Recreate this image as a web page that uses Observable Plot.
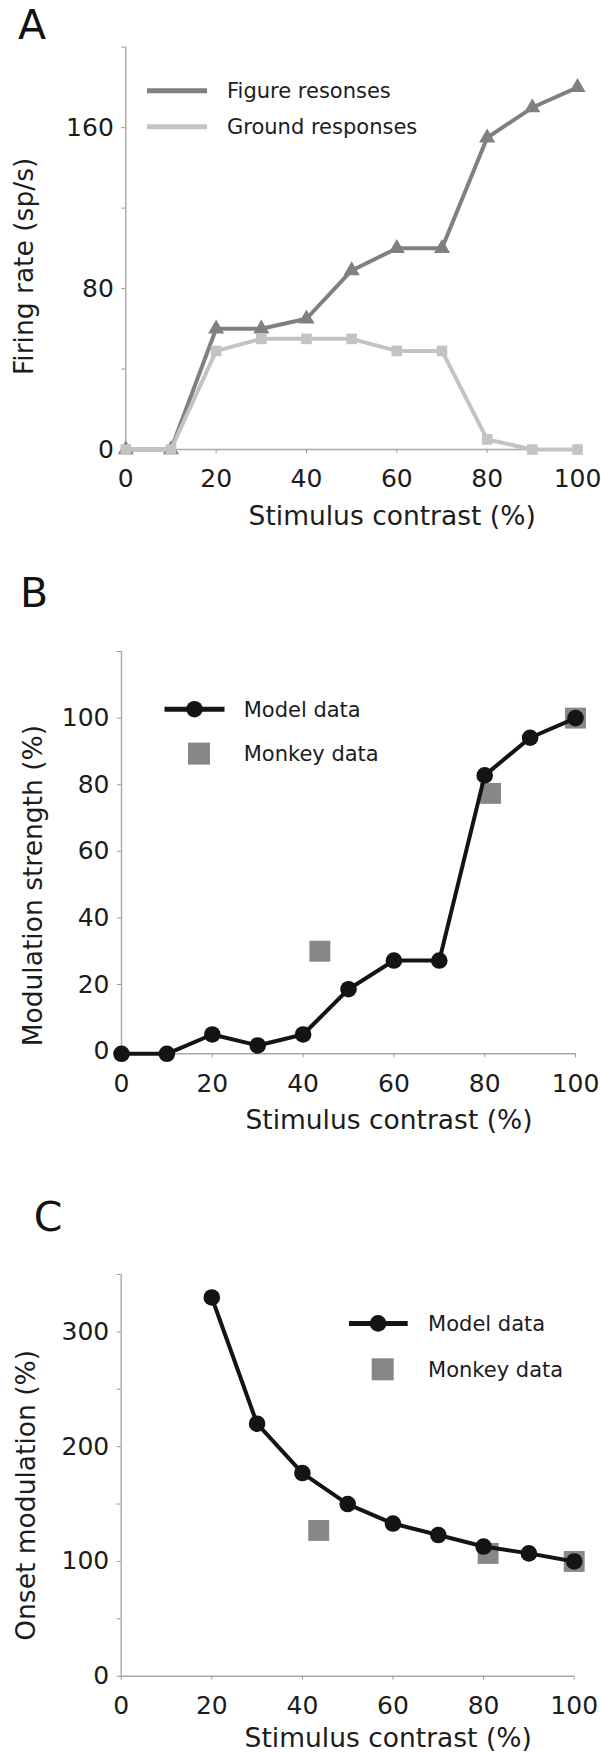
<!DOCTYPE html>
<html><head><meta charset="utf-8">
<script src="https://cdn.jsdelivr.net/npm/d3@7"></script>
<script src="https://cdn.jsdelivr.net/npm/@observablehq/plot@0.6"></script>
<style>
body{margin:0;background:#fff;}
#root{position:relative;width:601px;height:1754px;font-family:"DejaVu Sans",Verdana,sans-serif;overflow:hidden;}
.panel{position:absolute;left:0;}
.panel svg{overflow:visible;}
.panel g[aria-label="x-axis tick"], .panel g[aria-label="y-axis tick"]{stroke:#9a9a9a;}
#overlay{position:absolute;left:0;top:0;pointer-events:none;}
</style></head><body><div id="root"></div>
<script>
// ---- data ----
const contrast = [0, 10, 20, 30, 40, 50, 60, 70, 80, 90, 100];
const figureResp = [0, 0, 60, 60, 65, 89, 100, 100, 155, 170, 180];
const groundResp = [0, 0, 49, 55, 55, 55, 49, 49, 5, 0, 0];

const modelMod = [-0.8, -0.8, 5, 1.7, 5, 18.6, 27.2, 27.2, 82.8, 94.1, 100];
const monkeyModContrast = [43.7, 81.3, 100];
const monkeyMod = [30, 77.4, 100];

const onsetContrast = [20, 30, 40, 50, 60, 70, 80, 90, 100];
const modelOnset = [330, 220, 177, 150, 133, 123, 113, 107, 100];
const monkeyOnsetContrast = [43.6, 81.0, 100];
const monkeyOnset = [127, 107, 100];

const xTicks = [0, 20, 40, 60, 80, 100];
const yTicksA = [0, 40, 80, 120, 160, 200];
const yLabelsA = [0, 80, 160];
const yTicksB = [0, 20, 40, 60, 80, 100, 120];
const yLabelsB = [0, 20, 40, 60, 80, 100];
const yTicksC = [0, 50, 100, 150, 200, 250, 300, 350];
const yLabelsC = [0, 100, 200, 300];

const xTitle = "Stimulus contrast (%)";
const yTitleA = "Firing rate (sp/s)";
const yTitleB = "Modulation strength (%)";
const yTitleC = "Onset modulation (%)";
const legendA = ["Figure resonses", "Ground responses"];
const legendBC = ["Model data", "Monkey data"];
const panelLetters = ["A", "B", "C"];

const FIG = "#808080", GROUND = "#c3c3c3", MODEL = "#141414", MONKEY = "#878787";
const AXIS = "#a8a8a8";
const FONT = "DejaVu Sans, Verdana, sans-serif";

const tableA = contrast.map((c, i) => ({c, fig: figureResp[i], gr: groundResp[i]}));
const tableB = contrast.map((c, i) => ({c, v: modelMod[i]}));
const monkeyB = monkeyModContrast.map((c, i) => ({c, v: monkeyMod[i]}));
const tableC = onsetContrast.map((c, i) => ({c, v: modelOnset[i]}));
const monkeyC = monkeyOnsetContrast.map((c, i) => ({c, v: monkeyOnset[i]}));

const root = document.getElementById("root");

function makePanel({top, height, mt, mb, ml, mr, yDomain, yTicks, yLabels, yTitle, xTitleDy, yTitleDx, yTitleDy, marks}) {
  const chart = Plot.plot({
    width: 601, height,
    marginTop: mt, marginBottom: mb, marginLeft: ml, marginRight: mr,
    x: {domain: [0, 100], axis: null},
    y: {domain: yDomain, axis: null},
    style: {fontFamily: FONT, color: "#1c1c1c", background: "transparent", overflow: "visible"},
    marks: [
      Plot.ruleY([yDomain[0]], {stroke: AXIS, strokeWidth: 1.4}),
      Plot.ruleX([0], {stroke: AXIS, strokeWidth: 1.4}),
      Plot.axisX(xTicks, {tickSize: 4, tickPadding: 16, fontSize: 25, label: null}),
      Plot.axisY(yTicks, {tickSize: 4, tickPadding: 8, fontSize: 25, label: null,
        tickFormat: d => yLabels.includes(d) ? String(d) : ""}),
      Plot.text([xTitle], {text: d => d, frameAnchor: "bottom", lineAnchor: "bottom", textAnchor: "middle",
        dx: 40.5, dy: xTitleDy, fontSize: 26.5, fill: "#1c1c1c"}),
      Plot.text([yTitle], {text: d => d, frameAnchor: "left", rotate: -90, textAnchor: "middle", lineAnchor: "middle",
        dx: yTitleDx, dy: yTitleDy, fontSize: 26.5, fill: "#1c1c1c"}),
      ...marks
    ]
  });
  const div = document.createElement("div");
  div.className = "panel";
  div.style.top = top + "px";
  div.appendChild(chart);
  root.appendChild(div);
}

// Panel A
makePanel({
  top: 0, height: 580, mt: 46.7, mb: 131, ml: 125.3, mr: 24,
  yDomain: [0, 200], yTicks: yTicksA, yLabels: yLabelsA, yTitle: yTitleA,
  xTitleDy: 75, yTitleDx: -101, yTitleDy: 18,
  marks: [
    Plot.line(tableA, {x: "c", y: "fig", stroke: FIG, strokeWidth: 4}),
    Plot.dot(tableA, {x: "c", y: "fig", symbol: "triangle", r: 6, fill: FIG, stroke: "none"}),
    Plot.line(tableA, {x: "c", y: "gr", stroke: GROUND, strokeWidth: 4}),
    Plot.dot(tableA, {x: "c", y: "gr", symbol: "square", r: 6, fill: GROUND, stroke: "none"})
  ]
});

// Panel B
makePanel({
  top: 580, height: 580, mt: 71, mb: 106.7, ml: 121, mr: 26,
  yDomain: [-0.8, 120], yTicks: yTicksB, yLabels: yLabelsB, yTitle: yTitleB,
  xTitleDy: 75.5, yTitleDx: -88, yTitleDy: 33,
  marks: [
    Plot.dot(monkeyB, {x: "c", y: "v", symbol: "square", r: 11.8, fill: MONKEY, stroke: "none"}),
    Plot.line(tableB, {x: "c", y: "v", stroke: MODEL, strokeWidth: 4}),
    Plot.dot(tableB, {x: "c", y: "v", r: 8.3, fill: MODEL, stroke: "none"})
  ]
});

// Panel C
makePanel({
  top: 1160, height: 594, mt: 114, mb: 78.3, ml: 120.7, mr: 27.3,
  yDomain: [0, 350], yTicks: yTicksC, yLabels: yLabelsC, yTitle: yTitleC,
  xTitleDy: 71, yTitleDx: -95, yTitleDy: 20,
  marks: [
    Plot.dot(monkeyC, {x: "c", y: "v", symbol: "square", r: 11.8, fill: MONKEY, stroke: "none"}),
    Plot.line(tableC, {x: "c", y: "v", stroke: MODEL, strokeWidth: 4}),
    Plot.dot(tableC, {x: "c", y: "v", r: 8.3, fill: MODEL, stroke: "none"})
  ]
});

// Overlay: panel letters and legends
const svg = d3.select(root).append("svg").attr("id", "overlay")
  .attr("width", 601).attr("height", 1754)
  .style("font-family", FONT);

const letterPos = [[18, 39.3], [20, 606.7], [33.7, 1230.7]];
svg.selectAll("text.letter").data(panelLetters).join("text")
  .attr("class", "letter").attr("x", (d, i) => letterPos[i][0]).attr("y", (d, i) => letterPos[i][1])
  .attr("font-size", 41).attr("fill", "#111").text(d => d);

// Legend A
const gA = svg.append("g").attr("font-size", 21).attr("fill", "#1c1c1c");
[[legendA[0], FIG, 90.7], [legendA[1], GROUND, 126.7]].forEach(([t, col, y]) => {
  gA.append("line").attr("x1", 147).attr("x2", 207).attr("y1", y).attr("y2", y)
    .attr("stroke", col).attr("stroke-width", 5);
  gA.append("text").attr("x", 227).attr("y", y).attr("dy", "0.35em").text(t);
});

function legendBCDraw(x0, x1, xc, xs, xt, yl, ys, size) {
  const g = svg.append("g").attr("font-size", 21).attr("fill", "#1c1c1c");
  g.append("line").attr("x1", x0).attr("x2", x1).attr("y1", yl).attr("y2", yl)
    .attr("stroke", MODEL).attr("stroke-width", 5);
  g.append("circle").attr("cx", xc).attr("cy", yl).attr("r", 8.3).attr("fill", MODEL);
  g.append("rect").attr("x", xs - size / 2).attr("y", ys - size / 2)
    .attr("width", size).attr("height", size).attr("fill", MONKEY);
  g.append("text").attr("x", xt).attr("y", yl).attr("dy", "0.35em").text(legendBC[0]);
  g.append("text").attr("x", xt).attr("y", ys).attr("dy", "0.35em").text(legendBC[1]);
}
legendBCDraw(164.5, 224.5, 194.5, 199, 243.7, 580 + 129.2, 580 + 173.6, 22);
legendBCDraw(349, 407.7, 378.1, 382.7, 428.1, 1160 + 163.4, 1160 + 209.3, 22);
</script></body></html>
